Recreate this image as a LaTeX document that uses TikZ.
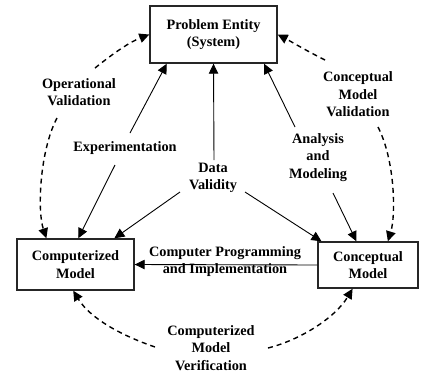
\documentclass[tikz,border=0pt]{standalone}
\usepackage{fontspec}
\setmainfont{Liberation Serif}
\usetikzlibrary{arrows.meta}
\begin{document}
\begin{tikzpicture}[x=1bp,y=-1bp,
  every node/.style={font=\bfseries\fontsize{14.3bp}{17.5bp}\selectfont, align=center, inner sep=0pt},
  box/.style={draw=black!85, line width=1.4bp, inner sep=0pt},
  lbl/.style={},
  solidarrow/.style={draw, line width=0.9bp, -{Triangle[length=10bp,width=9.5bp]}},
  dasharrow/.style={draw, line width=1.4bp, dash pattern=on 5bp off 4bp, -{Triangle[length=10bp,width=9.5bp]}}
]
\useasboundingbox (0,0) rectangle (421,374);

% boxes
\node[box, minimum width=127bp, minimum height=57bp] (pe) at (213.5,34.5) {Problem Entity\\(System)};
\node[box, minimum width=117bp, minimum height=51bp] (cm) at (75.5,264.5) {Computerized\\Model};
\node[box, minimum width=100bp, minimum height=46bp] (cc) at (368,265) {Conceptual\\Model};

% labels
\node[lbl] (ov) at (79,92) {Operational\\Validation};
\node[lbl] (cmv) at (358,94.5) {Conceptual\\Model\\Validation};
\node[lbl] (exp) at (125,148) {Experimentation};
\node[lbl] (am) at (318,157.5) {Analysis\\and\\Modeling};
\node[lbl] (dv) at (213,178) {Data\\Validity};
\node[lbl] (cpi) at (225,261.5) {Computer Programming\\and Implementation};
\node[lbl] (cmver) at (211,348) {Computerized\\Model\\Verification};

% free ends of connectors
\coordinate (expT) at (130,133);
\coordinate (expB) at (115,165);
\coordinate (dvT) at (214,160);
\coordinate (dvL) at (180,192);
\coordinate (dvR) at (245,192);
\coordinate (amT) at (295,127);
\coordinate (amB) at (333,193);
\coordinate (ovT) at (95,68);
\coordinate (ovB) at (57,118);
\coordinate (cmvT) at (325,60);
\coordinate (cmvB) at (378,127);
\coordinate (verL) at (155,347);
\coordinate (verR) at (268,348);

% solid connectors
\path[solidarrow] (expT) -- (pe.212);
\path[solidarrow] (expB) -- (cm.84);
\path[solidarrow] (dvT) -- (pe.south);
\path[solidarrow] (dvL) -- (cm.34);
\path[solidarrow] (dvR) -- (cc.153);
\path[solidarrow] (amT) -- (pe.-30);
\path[solidarrow] (amB) -- (cc.116);
\path[solidarrow] (cc.west) -- (cm.east);

% dashed connectors
\path[dasharrow] (ovT) .. controls (115,52) and (130,42) .. (pe.west);
\path[dasharrow] (ovB) .. controls (40,150) and (37,210) .. (cm.138);
\path[dasharrow] (cmvT) .. controls (305,50) and (292,42) .. (pe.east);
\path[dasharrow] (cmvB) .. controls (395,160) and (396,215) .. (cc.50);
\path[dasharrow] (verL) .. controls (120,335) and (90,318) .. (cm.-95);
\path[dasharrow] (verR) .. controls (300,340) and (335,318) .. (cc.-123);
\end{tikzpicture}
\end{document}
